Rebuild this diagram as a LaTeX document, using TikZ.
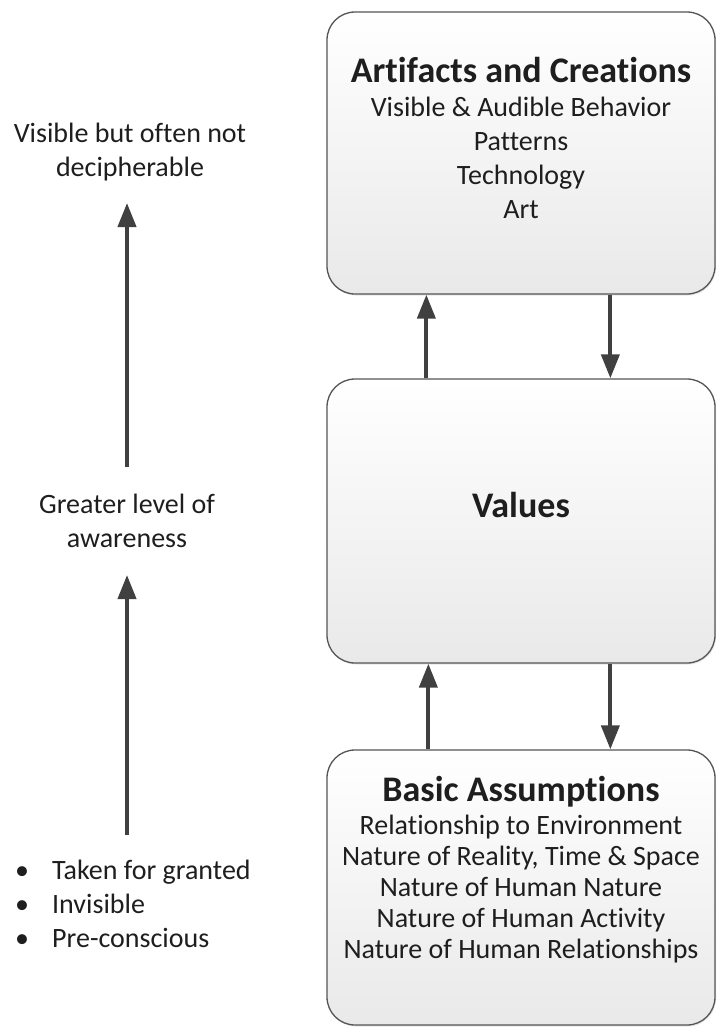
\documentclass[tikz,border=0pt]{standalone}
\usepackage{fontspec}
\setmainfont{Carlito}[Ligatures=NoCommon]
\usetikzlibrary{arrows.meta,shadows}
\definecolor{arrowgray}{HTML}{404040}
\definecolor{edgegray}{HTML}{555555}
\definecolor{txt}{HTML}{1E1E1E}
\definecolor{boxbottom}{HTML}{E9E9E9}
\begin{document}
\begin{tikzpicture}[x=1pt,y=-1pt,
  box/.style={draw=edgegray, line width=1.3pt, rounded corners=28pt,
    top color=white, bottom color=boxbottom, minimum width=388pt, inner sep=0pt,
    drop shadow={shadow xshift=1pt, shadow yshift=-1.5pt, opacity=0.2}},
  arr/.style={draw=arrowgray, line width=4pt, -{Triangle[length=24pt,width=18pt]}},
  body/.style={font=\fontsize{28}{34}\selectfont, text=txt, align=center, inner sep=0pt},
  body3/.style={font=\fontsize{28}{31}\selectfont, text=txt, align=center, inner sep=0pt},
  ttl/.style={font=\fontsize{36}{42}\selectfont\bfseries, text=txt, align=center, inner sep=0pt}]
\useasboundingbox (0,0) rectangle (716,1028);
% boxes
\node[box, minimum height=282pt] (art) at (521,153) {};
\node[box, minimum height=284pt] (val) at (521,521) {};
\node[box, minimum height=275pt] (bas) at (521,887.5) {};
% box texts
\node[ttl] (artt) at (521,70) {Artifacts and Creations};
\node[body] (artb) at (521,157.5) {Visible \& Audible Behavior\\Patterns\\Technology\\Art};
\node[ttl] (valt) at (521,505) {Values};
\node[ttl] (bast) at (521,792) {Basic Assumptions};
\node[body3] (basb) at (521,889) {Relationship to Environment\\Nature of Reality, Time \& Space\\Nature of Human Nature\\Nature of Human Activity\\Nature of Human Relationships};
% connectors between boxes
\draw[arr] ([xshift=100pt]val.north west) -- ([xshift=100pt]art.south west);
\draw[arr] ([xshift=284pt]art.south west) -- ([xshift=284pt]val.north west);
\draw[arr] ([xshift=102pt]bas.north west) -- ([xshift=102pt]val.south west);
\draw[arr] ([xshift=284pt]val.south west) -- ([xshift=284pt]bas.north west);
% left side
\node[body] (vis) at (130,152) {Visible but often not\\decipherable};
\node[body] (awr) at (127,521) {Greater level of\\awareness};
\node[body, align=left, anchor=west] (bul) at (15,904) {\makebox[37pt][l]{\textbullet}Taken for granted\\\makebox[37pt][l]{\textbullet}Invisible\\\makebox[37pt][l]{\textbullet}Pre-conscious};
\coordinate (a1s) at (127,467);
\coordinate (a1e) at (127,203);
\coordinate (a2s) at (127,835);
\coordinate (a2e) at (127,575);
\draw[arr] (a1s) -- (a1e);
\draw[arr] (a2s) -- (a2e);
\end{tikzpicture}
\end{document}
